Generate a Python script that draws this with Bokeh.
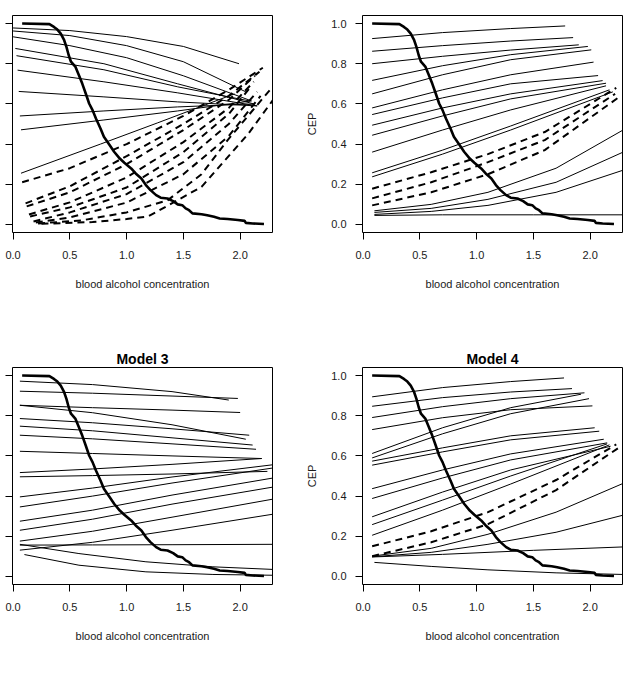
from bokeh.plotting import figure
from bokeh.models import Range1d, FixedTicker, PrintfTickFormatter, CustomJSTickFormatter, LinearAxis, Title
from bokeh.layouts import row, column
from bokeh.embed import file_html
from bokeh.resources import INLINE

# ---------------- data ----------------
x_ticks = [0.0, 0.5, 1.0, 1.5, 2.0]
y_ticks = [0.0, 0.2, 0.4, 0.6, 0.8, 1.0]
x_label = "blood alcohol concentration"
y_label = "CEP"
titles = [None, None, "Model 3", "Model 4"]

# empirical (thick) curve shared by all panels
step_x = [0.08, 0.32, 0.36, 0.39, 0.42, 0.45, 0.47, 0.49, 0.51, 0.55,
          0.58, 0.61, 0.64, 0.67, 0.70, 0.73, 0.77, 0.80, 0.85, 0.89,
          0.94, 0.98, 1.04, 1.08, 1.13, 1.17, 1.21, 1.26, 1.30, 1.36,
          1.41, 1.45, 1.49, 1.52, 1.55, 1.58, 1.66, 1.71, 1.77, 1.82,
          1.89, 1.98, 2.04, 2.05, 2.11, 2.21]
step_y = [1.0, 0.997, 0.983, 0.97, 0.95, 0.917, 0.884, 0.842, 0.81, 0.784,
          0.743, 0.70, 0.652, 0.602, 0.569, 0.527, 0.478, 0.436, 0.395, 0.362,
          0.328, 0.307, 0.279, 0.254, 0.229, 0.196, 0.171, 0.146, 0.133, 0.129,
          0.116, 0.10, 0.096, 0.08, 0.071, 0.055, 0.051, 0.046, 0.038, 0.03,
          0.027, 0.022, 0.018, 0.008, 0.005, 0.002]

# Model 1
m1_solid_x = [
    [0.0, 0.5, 1.0, 1.5, 1.99],
    [0.0, 0.5, 1.0, 1.5, 2.05],
    [0.0, 0.5, 1.0, 1.5, 2.10],
    [0.02, 0.8, 1.45, 2.12],
    [0.03, 0.8, 1.45, 2.08],
    [0.04, 0.8, 1.45, 2.15],
    [0.05, 0.8, 1.45, 2.15],
    [0.06, 0.8, 1.45, 2.12],
    [0.07, 0.8, 1.45, 2.10],
    [0.07, 0.77, 1.27, 1.95],
]
m1_solid_y = [
    [0.978, 0.965, 0.935, 0.886, 0.80],
    [0.963, 0.94, 0.89, 0.81, 0.66],
    [0.934, 0.89, 0.83, 0.74, 0.615],
    [0.876, 0.80, 0.70, 0.60],
    [0.84, 0.77, 0.685, 0.615],
    [0.768, 0.71, 0.655, 0.59],
    [0.662, 0.635, 0.61, 0.59],
    [0.54, 0.565, 0.585, 0.60],
    [0.471, 0.52, 0.565, 0.615],
    [0.255, 0.40, 0.505, 0.65],
]
m1_dash_x = [
    [0.08, 0.5, 1.0, 1.5, 1.9, 2.2],
    [0.11, 0.5, 1.0, 1.5, 1.9, 2.17],
    [0.12, 0.5, 1.0, 1.5, 1.9, 2.13],
    [0.14, 0.5, 1.0, 1.5, 1.9, 2.12],
    [0.15, 0.5, 1.0, 1.5, 1.9, 2.10],
    [0.18, 0.5, 1.0, 1.5, 1.9, 2.15],
    [0.20, 0.5, 1.0, 1.5, 1.9, 2.18],
    [0.22, 0.6, 1.0, 1.36, 1.66, 1.89, 2.26],
    [0.25, 0.7, 1.0, 1.19, 1.66, 2.07, 2.29],
]
m1_dash_y = [
    [0.21, 0.28, 0.40, 0.54, 0.67, 0.78],
    [0.105, 0.19, 0.34, 0.50, 0.64, 0.76],
    [0.09, 0.16, 0.30, 0.47, 0.62, 0.74],
    [0.05, 0.11, 0.234, 0.41, 0.58, 0.71],
    [0.04, 0.085, 0.184, 0.36, 0.55, 0.69],
    [0.015, 0.06, 0.151, 0.31, 0.50, 0.66],
    [0.01, 0.035, 0.109, 0.25, 0.44, 0.64],
    [0.005, 0.02, 0.06, 0.12, 0.25, 0.42, 0.668],
    [0.003, 0.012, 0.027, 0.04, 0.187, 0.45, 0.62],
]

# Model 2
m2_solid_x = [
    [0.08, 0.7, 1.3, 1.78],
    [0.08, 0.7, 1.3, 1.85],
    [0.08, 0.7, 1.3, 1.90],
    [0.08, 0.7, 1.3, 1.98],
    [0.08, 0.7, 1.3, 2.01],
    [0.08, 0.7, 1.3, 2.03],
    [0.08, 0.7, 1.3, 2.07],
    [0.08, 0.7, 1.3, 2.11],
    [0.08, 0.7, 1.3, 2.14],
    [0.08, 0.7, 1.3, 2.14],
    [0.08, 0.7, 1.3, 2.17],
    [0.08, 0.7, 1.3, 2.20],
    [0.10, 0.6, 1.1, 1.7, 2.29],
    [0.10, 0.6, 1.1, 1.7, 2.29],
    [0.10, 0.6, 1.1, 1.7, 2.29],
    [0.10, 0.7, 1.5, 2.29],
]
m2_solid_y = [
    [0.925, 0.955, 0.975, 0.988],
    [0.862, 0.89, 0.913, 0.93],
    [0.80, 0.837, 0.868, 0.894],
    [0.717, 0.79, 0.845, 0.886],
    [0.65, 0.745, 0.82, 0.869],
    [0.58, 0.67, 0.745, 0.808],
    [0.547, 0.63, 0.70, 0.741],
    [0.494, 0.58, 0.65, 0.716],
    [0.444, 0.54, 0.625, 0.703],
    [0.36, 0.47, 0.57, 0.69],
    [0.257, 0.37, 0.49, 0.67],
    [0.237, 0.35, 0.47, 0.66],
    [0.068, 0.10, 0.16, 0.28, 0.47],
    [0.06, 0.08, 0.125, 0.21, 0.36],
    [0.05, 0.065, 0.095, 0.16, 0.27],
    [0.045, 0.048, 0.048, 0.048],
]
m2_dash_x = [
    [0.08, 0.6, 1.1, 1.6, 2.23],
    [0.08, 0.6, 1.1, 1.6, 2.22],
    [0.08, 0.6, 1.1, 1.6, 2.24],
]
m2_dash_y = [
    [0.178, 0.26, 0.35, 0.46, 0.68],
    [0.13, 0.21, 0.31, 0.42, 0.65],
    [0.095, 0.16, 0.25, 0.37, 0.628],
]

# Model 3
m3_solid_x = [
    [0.06, 0.7, 1.4, 1.90],
    [0.06, 0.7, 1.4, 1.98],
    [0.06, 0.7, 1.4, 2.00],
    [0.06, 0.7, 1.4, 2.05],
    [0.06, 0.7, 1.4, 2.08],
    [0.06, 0.7, 1.4, 2.11],
    [0.06, 0.7, 1.4, 2.14],
    [0.06, 0.7, 1.4, 2.19],
    [0.06, 0.7, 1.4, 2.19],
    [0.06, 0.7, 1.4, 2.24],
    [0.06, 0.7, 1.4, 2.29],
    [0.06, 0.7, 1.4, 2.29],
    [0.06, 0.7, 1.4, 2.29],
    [0.06, 0.7, 1.4, 2.29],
    [0.06, 0.7, 1.4, 2.29],
    [0.06, 0.7, 1.4, 2.29],
    [0.06, 0.7, 1.4, 2.29],
    [0.06, 0.58, 1.17, 1.76, 2.29],
    [0.10, 0.58, 1.17, 1.76, 2.29],
]
m3_solid_y = [
    [0.972, 0.955, 0.92, 0.878],
    [0.922, 0.912, 0.898, 0.886],
    [0.852, 0.84, 0.828, 0.816],
    [0.852, 0.815, 0.755, 0.683],
    [0.786, 0.765, 0.735, 0.703],
    [0.748, 0.725, 0.69, 0.654],
    [0.703, 0.685, 0.66, 0.633],
    [0.623, 0.612, 0.60, 0.587],
    [0.517, 0.535, 0.558, 0.587],
    [0.496, 0.502, 0.51, 0.523],
    [0.396, 0.44, 0.495, 0.556],
    [0.346, 0.40, 0.465, 0.54],
    [0.275, 0.33, 0.405, 0.49],
    [0.23, 0.285, 0.36, 0.445],
    [0.176, 0.225, 0.295, 0.385],
    [0.131, 0.17, 0.23, 0.31],
    [0.156, 0.157, 0.158, 0.16],
    [0.16, 0.114, 0.073, 0.048, 0.035],
    [0.109, 0.056, 0.023, 0.01, 0.006],
]

# Model 4
m4_solid_x = [
    [0.08, 0.7, 1.3, 1.77],
    [0.08, 0.7, 1.3, 1.84],
    [0.08, 0.7, 1.3, 1.95],
    [0.08, 0.7, 1.3, 2.02],
    [0.08, 0.7, 1.3, 1.92],
    [0.08, 0.7, 1.3, 1.99],
    [0.08, 0.7, 1.3, 2.04],
    [0.08, 0.7, 1.3, 2.08],
    [0.08, 0.7, 1.3, 2.12],
    [0.08, 0.7, 1.3, 2.15],
    [0.08, 0.7, 1.3, 2.18],
    [0.08, 0.7, 1.3, 2.15],
    [0.08, 0.7, 1.3, 2.17],
    [0.08, 0.6, 1.1, 1.7, 2.29],
    [0.08, 0.6, 1.1, 1.7, 2.29],
    [0.08, 0.7, 1.5, 2.29],
    [0.10, 0.6, 1.1, 1.7, 2.29],
]
m4_solid_y = [
    [0.894, 0.94, 0.97, 0.988],
    [0.847, 0.89, 0.918, 0.935],
    [0.791, 0.845, 0.885, 0.914],
    [0.731, 0.79, 0.83, 0.849],
    [0.612, 0.74, 0.84, 0.907],
    [0.59, 0.71, 0.81, 0.885],
    [0.574, 0.64, 0.70, 0.74],
    [0.554, 0.62, 0.68, 0.723],
    [0.437, 0.53, 0.61, 0.683],
    [0.388, 0.49, 0.58, 0.665],
    [0.297, 0.42, 0.53, 0.648],
    [0.258, 0.38, 0.50, 0.66],
    [0.205, 0.33, 0.46, 0.655],
    [0.101, 0.14, 0.21, 0.32, 0.463],
    [0.098, 0.12, 0.16, 0.22, 0.305],
    [0.097, 0.11, 0.13, 0.147],
    [0.07, 0.05, 0.033, 0.018, 0.01],
]
m4_dash_x = [
    [0.08, 0.6, 1.1, 1.7, 2.23],
    [0.08, 0.6, 1.1, 1.7, 2.25],
]
m4_dash_y = [
    [0.15, 0.225, 0.32, 0.48, 0.657],
    [0.101, 0.17, 0.26, 0.43, 0.64],
]

# ---------------- drawing ----------------
FONT = "Liberation Sans"
X0, X1, Y0, Y1 = -0.005, 2.285, -0.04, 1.04


def panel(solid_x, solid_y, dash_x, dash_y, title, left_labels, borders):
    top, bottom, left, right = borders
    p = figure(frame_width=260, frame_height=217,
               x_range=Range1d(X0, X1), y_range=Range1d(Y0, Y1),
               output_backend="svg", toolbar_location=None, title=None,
               min_border_top=top, min_border_bottom=bottom,
               min_border_left=left, min_border_right=right,
               background_fill_color="white", border_fill_color="white")
    p.grid.visible = False
    p.outline_line_color = "black"
    p.outline_line_width = 1

    xa = p.below[0]
    xa.ticker = FixedTicker(ticks=x_ticks)
    xa.formatter = PrintfTickFormatter(format="%.1f")
    xa.axis_label = x_label
    xa.major_label_standoff = 11
    xa.axis_label_standoff = 16

    ya = p.left[0]
    ya.ticker = FixedTicker(ticks=y_ticks)
    if left_labels:
        ya.formatter = PrintfTickFormatter(format="%.1f")
        ya.axis_label = y_label
        ya.major_label_standoff = 9
        ya.axis_label_standoff = 10
        ya.major_label_orientation = "horizontal"
    else:
        ya.formatter = CustomJSTickFormatter(code="return ''")
        ya.major_label_standoff = 0

    for ax in (xa, ya):
        ax.axis_line_color = None
        ax.major_tick_out = 7
        ax.major_tick_in = 0
        ax.major_tick_line_color = "black"
        ax.minor_tick_line_color = None
        ax.major_label_text_font = FONT
        ax.major_label_text_font_size = "11px"
        ax.major_label_text_color = "#1a1a1a"
        ax.axis_label_text_font = FONT
        ax.axis_label_text_font_size = "11px"
        ax.axis_label_text_font_style = "normal"
        ax.axis_label_text_color = "#1a1a1a"

    if title:
        # title first, then an invisible spacer that sits between it and the box
        p.add_layout(Title(text=title, text_font=FONT, text_font_size="14px",
                           text_font_style="bold", align="center",
                           vertical_align="bottom", text_color="black",
                           standoff=1), "above")
        spacer = LinearAxis(ticker=FixedTicker(ticks=[]), axis_line_color=None,
                            major_tick_out=22, major_tick_in=0,
                            major_tick_line_color=None, minor_tick_line_color=None,
                            major_label_standoff=0)
        p.add_layout(spacer, "above")

    p.multi_line(solid_x, solid_y, line_color="black", line_width=1)
    if dash_x:
        p.multi_line(dash_x, dash_y, line_color="black", line_width=2,
                     line_dash="7 5")
    p.line(step_x, step_y, line_color="black", line_width=2.6)
    return p


p1 = panel(m1_solid_x, m1_solid_y, m1_dash_x, m1_dash_y, titles[0], False, (15, 88, 12, 18))
p2 = panel(m2_solid_x, m2_solid_y, m2_dash_x, m2_dash_y, titles[1], True, (15, 88, 72, 12))
p3 = panel(m3_solid_x, m3_solid_y, None, None, titles[2], False, (47, 89, 12, 18))
p4 = panel(m4_solid_x, m4_solid_y, m4_dash_x, m4_dash_y, titles[3], True, (47, 89, 72, 12))

layout = column(row(p1, p2, spacing=0), row(p3, p4, spacing=0), spacing=0)

open("out.html", "w").write(file_html(layout, INLINE))
